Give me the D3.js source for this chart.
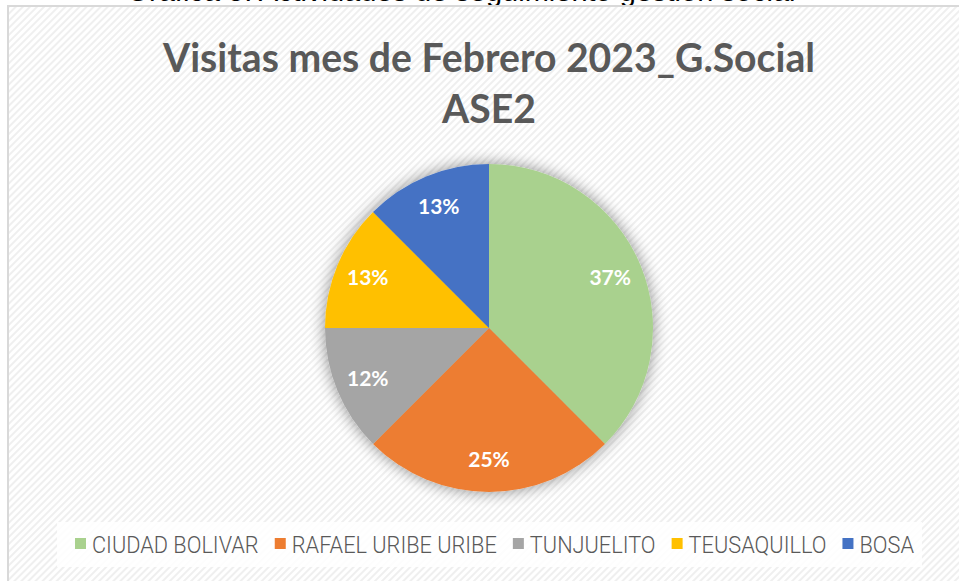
<!DOCTYPE html>
<html>
<head>
<meta charset="utf-8">
<script src="https://cdn.jsdelivr.net/npm/d3@7"></script>
<style>
  body { margin: 0; background: #fff; overflow: hidden; }
  svg { display: block; }
</style>
</head>
<body>
<div id="chart"></div>
<script>
// data
const categories = ["CIUDAD BOLIVAR", "RAFAEL URIBE URIBE", "TUNJUELITO", "TEUSAQUILLO", "BOSA"];
const visits = [3, 2, 1, 1, 1];
const pctLabels = ["37%", "25%", "12%", "13%", "13%"];
const colors = ["#A9D18E", "#ED7D31", "#A5A5A5", "#FFC000", "#4472C4"];
const titleLines = ["Visitas mes de Febrero 2023_G.Social", "ASE2"];
const caption = "Gráfica 5. Actividades de seguimiento gestión social";

const width = 959, height = 581;
const cx = 489, cy = 328, radius = 164;

const svg = d3.select("#chart").append("svg")
    .attr("width", width)
    .attr("height", height);

const defs = svg.append("defs");

// diagonal hatch background like the Excel style
const pat = defs.append("pattern")
    .attr("id", "hatch")
    .attr("patternUnits", "userSpaceOnUse")
    .attr("width", 5)
    .attr("height", 5)
    .attr("patternTransform", "rotate(45)");
pat.append("rect").attr("width", 5).attr("height", 5).attr("fill", "#ffffff");
pat.append("rect").attr("width", 2).attr("height", 5).attr("fill", "#efefef");

const shadow = defs.append("filter")
    .attr("id", "glow")
    .attr("x", "-30%").attr("y", "-30%")
    .attr("width", "160%").attr("height", "160%");
shadow.append("feGaussianBlur").attr("in", "SourceAlpha").attr("stdDeviation", 8);
shadow.append("feComponentTransfer").append("feFuncA").attr("type", "linear").attr("slope", 0.45);
const merge = shadow.append("feMerge");
merge.append("feMergeNode");
merge.append("feMergeNode").attr("in", "SourceGraphic");

// caption of the document, cut off at the top like in the source
svg.append("text")
    .attr("x", 461)
    .attr("y", 1)
    .attr("text-anchor", "middle")
    .style("font-family", "Liberation Sans, Arial, sans-serif")
    .style("font-size", "29px")
    .attr("fill", "#000")
    .text(caption);

// chart frame
svg.append("rect")
    .attr("x", 8)
    .attr("y", 6)
    .attr("width", 1000)
    .attr("height", 620)
    .attr("fill", "url(#hatch)")
    .attr("stroke", "#d9d9d9")
    .attr("stroke-width", 2);

// title (squeezed a bit, Calibri is narrower than Lato)
svg.append("g")
    .attr("transform", "translate(489,0) scale(0.955,1)")
    .selectAll("text")
    .data(titleLines)
    .enter().append("text")
    .attr("x", 0)
    .attr("y", (d, i) => 72 + i * 51)
    .attr("text-anchor", "middle")
    .style("font-family", "Lato, 'Open Sans', sans-serif")
    .style("font-weight", "bold")
    .style("font-size", "41px")
    .attr("fill", "#595959")
    .text(d => d);

// pie
const pie = d3.pie().sort(null).value(d => d);
const arc = d3.arc().innerRadius(0).outerRadius(radius);
const labelArc = d3.arc().innerRadius(radius * 0.8).outerRadius(radius * 0.8);
const arcs = pie(visits);

const pieG = svg.append("g")
    .attr("transform", `translate(${cx},${cy})`);

pieG.append("g")
    .attr("filter", "url(#glow)")
    .selectAll("path")
    .data(arcs)
    .enter().append("path")
    .attr("d", arc)
    .attr("fill", (d, i) => colors[i]);

pieG.append("g")
    .selectAll("text")
    .data(arcs)
    .enter().append("text")
    .attr("transform", d => `translate(${labelArc.centroid(d)})`)
    .attr("text-anchor", "middle")
    .attr("dy", "0.35em")
    .style("font-family", "Lato, 'Open Sans', sans-serif")
    .style("font-weight", "bold")
    .style("font-size", "21px")
    .attr("fill", "#ffffff")
    .text((d, i) => pctLabels[i]);

// legend band
svg.append("rect")
    .attr("x", 57)
    .attr("y", 522)
    .attr("width", 865)
    .attr("height", 45)
    .attr("fill", "#ffffff")
    .attr("opacity", 0.85);

const legend = svg.append("g");
const items = legend.selectAll("g")
    .data(categories)
    .enter().append("g");

items.append("rect")
    .attr("width", 11)
    .attr("height", 11)
    .attr("y", -6)
    .attr("fill", (d, i) => colors[i]);

const labels = items.append("text")
    .attr("dy", "0.36em")
    .style("font-family", "Roboto, sans-serif")
    .style("font-weight", "300")
    .style("font-size", "24px")
    .attr("fill", "#595959")
    .text(d => d);

// squeeze the legend text so the whole row fits the Excel width
const legendLeft = 75, legendRight = 914, gap = 16, swatch = 17;
const textW = [];
labels.each(function() { textW.push(this.getComputedTextLength()); });
const k = (legendRight - legendLeft - categories.length * swatch - gap * (categories.length - 1)) / d3.sum(textW);
labels.attr("transform", `translate(${swatch},0) scale(${k},1)`);

let xPos = legendLeft;
items.attr("transform", (d, i) => {
    const t = `translate(${xPos},544)`;
    xPos += swatch + textW[i] * k + gap;
    return t;
});
</script>
</body>
</html>
